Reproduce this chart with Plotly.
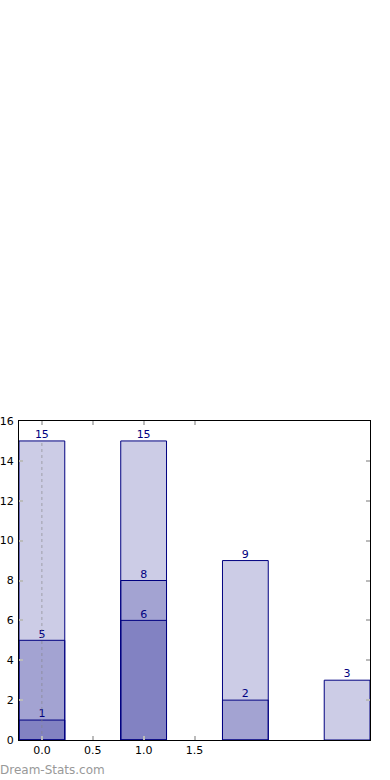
import plotly.graph_objects as go

positions = [0, 1, 2, 3]
layer_total = [15, 15, 9, 3]
layer_mid = [5, 8, 2, None]
layer_low = [1, 6, None, None]
x_ticks = [0, 0.5, 1.0, 1.5]
x_tick_labels = ["0.0", "0.5", "1.0", "1.5"]
y_ticks = [0, 2, 4, 6, 8, 10, 12, 14, 16]

fig = go.Figure()
fill = "rgba(0,0,128,0.2)"
for vals in [layer_total, layer_mid, layer_low]:
    xs = [p for p, v in zip(positions, vals) if v is not None]
    ys = [v for v in vals if v is not None]
    fig.add_trace(go.Bar(x=xs, y=ys, width=0.45, marker=dict(color=fill, line=dict(color="#000080", width=1)),
                         hoverinfo="skip", showlegend=False))
    fig.add_trace(go.Scatter(x=xs, y=ys, mode="text", text=[str(v) for v in ys], textposition="top center",
                             textfont=dict(color="#000080", size=11, family="DejaVu Sans"),
                             cliponaxis=False, showlegend=False, hoverinfo="skip"))

fig.add_trace(go.Scatter(x=[positions[0], positions[0]], y=[0, layer_total[0]], mode="lines",
                         line=dict(color="rgba(128,128,128,0.6)", width=1, dash="dot"),
                         showlegend=False, hoverinfo="skip"))

fig.update_layout(
    width=390, height=780, barmode="overlay", plot_bgcolor="white", paper_bgcolor="white",
    margin=dict(l=19, r=20, t=421, b=40),
    font=dict(family="DejaVu Sans", size=11, color="black"),
    annotations=[dict(text="Dream-Stats.com", xref="paper", yref="paper", x=0, y=0,
                      xanchor="left", yanchor="middle", xshift=-21, yshift=-30, showarrow=False,
                      font=dict(size=12, color="#999999", family="DejaVu Sans"))],
)
fig.update_xaxes(range=[-0.225, 3.225], tickvals=x_ticks, ticktext=x_tick_labels, showgrid=False, zeroline=False,
                 showline=True, linecolor="black", linewidth=1, mirror="allticks", ticks="inside", ticklen=4,
                 tickcolor="#bbbbbb", tickwidth=2, automargin=False)
fig.update_yaxes(range=[0, 16], tickvals=y_ticks, showgrid=False, zeroline=False,
                 showline=True, linecolor="black", linewidth=1, mirror="allticks", ticks="inside", ticklen=4,
                 tickcolor="#bbbbbb", tickwidth=2, automargin=False, ticklabelstandoff=2)
fig.write_html("out.html", config={"displayModeBar": False},
               post_script="document.body.style.margin='0px';")
